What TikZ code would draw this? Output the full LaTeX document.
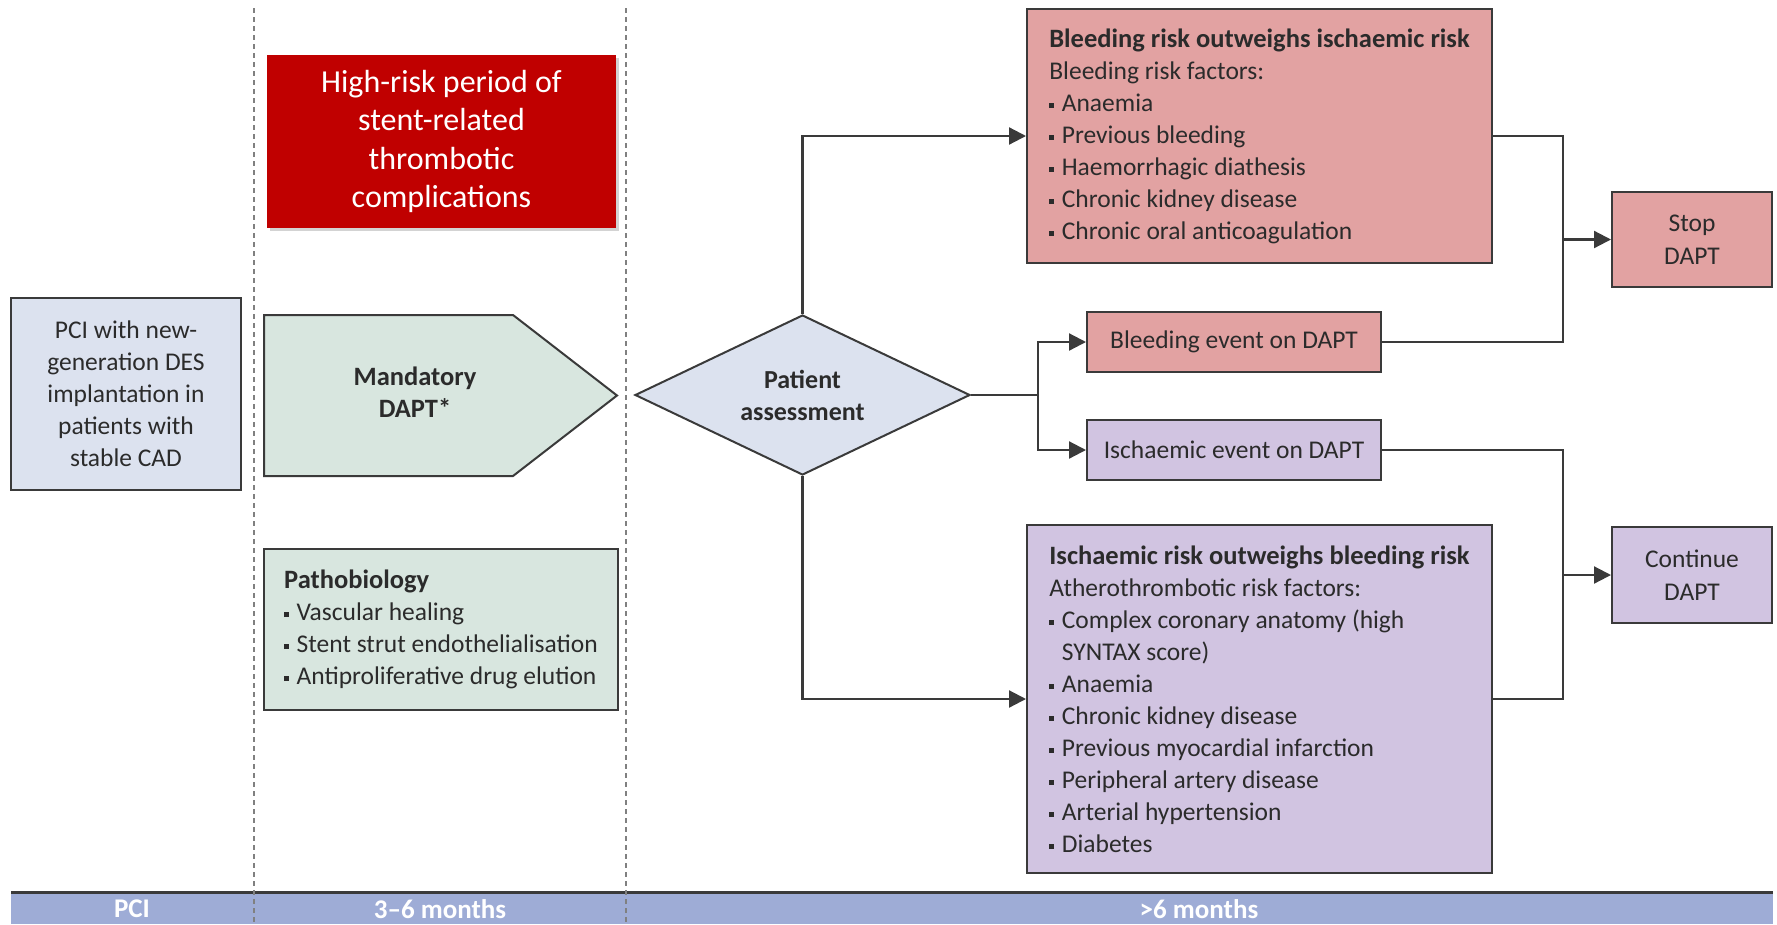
\documentclass[tikz,border=0pt]{standalone}
\usepackage{fontspec}
\setmainfont{Carlito}
\usetikzlibrary{arrows.meta,shapes.geometric,shadows}
\definecolor{pcifill}{HTML}{DCE2EF}
\definecolor{greenfill}{HTML}{D8E6DF}
\definecolor{riskred}{HTML}{C00000}
\definecolor{bleedfill}{HTML}{E2A2A2}
\definecolor{ischfill}{HTML}{D1C4E1}
\definecolor{barfill}{HTML}{9EACD6}
\definecolor{boxline}{HTML}{3A3A3A}
\definecolor{textcol}{HTML}{2B2B2B}
\newcommand{\blt}{\rule[0.28ex]{0.19em}{0.19em}\hspace{0.3em}}
\newcommand{\hd}[1]{{\bfseries\fontsize{26.5}{32}\selectfont #1}}
\begin{document}
\begin{tikzpicture}[x=1pt, y=-1pt, line width=2.2pt, >={Triangle[length=17pt,width=17pt]},
	box/.style={draw=boxline, line width=2pt, inner sep=0pt, text=textcol, font=\fontsize{25.5}{32}\selectfont},
	link/.style={draw=boxline, line width=2.2pt},
	sepline/.style={draw=gray, line width=1.5pt, dash pattern=on 5pt off 4pt},
	barlabel/.style={text=white, font=\bfseries\fontsize{27}{30}\selectfont}]
	\useasboundingbox (0,0) rectangle (1777,924);
	
	% 1. 底部时间条
	\fill[barfill] (11,892) rectangle (1773,924);
	\draw[boxline, line width=3pt] (11,892) -- (1773,892);
	\node[barlabel] (tpci) at (132,909) {PCI};
	\node[barlabel] (tmid) at (440,909) {3–6 months};
	\node[barlabel] (tlate) at (1199,909) {>6 months};
	
	% 2. 分隔虚线
	\draw[sepline] (254,8) -- (254,924);
	\draw[sepline] (626,8) -- (626,924);
	
	% 3. 左侧各框
	\node[box, fill=pcifill, minimum width=230, minimum height=192, align=center] (pci) at (126,394)
		{PCI with new-\\generation DES\\implantation in\\patients with\\stable CAD};
	\node[fill=riskred, minimum width=349, minimum height=173, inner sep=0pt, align=center, text=white,
		font=\fontsize{32}{38.5}\selectfont, drop shadow={opacity=0.35, shadow xshift=3pt, shadow yshift=-3pt}] (highrisk) at (441.5,141.5)
		{High-risk period of\\stent-related\\thrombotic\\complications};
	\draw[boxline, line width=2pt, fill=greenfill] (264,315) -- (513,315) -- (617,395.5) -- (513,476) -- (264,476) -- cycle;
	\node[text=textcol, align=center, font=\bfseries\fontsize{26.5}{32}\selectfont] (dapt) at (415,392) {Mandatory\\DAPT*};
	\node[box, fill=greenfill, minimum width=354, minimum height=161, align=left] (patho) at (441,629.5)
		{\hd{Pathobiology}\\\blt Vascular healing\\\blt Stent strut endothelialisation\\\blt Antiproliferative drug elution};
	
	% 4. 决策菱形
	\node[box, diamond, fill=pcifill, minimum width=335, minimum height=160, aspect=2.1, align=center,
		font=\bfseries\fontsize{26}{32}\selectfont] (assess) at (802.5,395) {Patient\\assessment};
	
	% 5. 右侧各框
	\node[box, fill=bleedfill, minimum width=465, minimum height=254, align=left] (bleedrisk) at (1259.5,136)
		{\hd{Bleeding risk outweighs ischaemic risk}\\Bleeding risk factors:\\\blt Anaemia\\\blt Previous bleeding\\\blt Haemorrhagic diathesis\\\blt Chronic kidney disease\\\blt Chronic oral anticoagulation};
	\node[box, fill=bleedfill, minimum width=294, minimum height=60] (bleedevent) at (1234,342) {Bleeding event on DAPT};
	\node[box, fill=ischfill, minimum width=294, minimum height=60] (ischevent) at (1234,450) {Ischaemic event on DAPT};
	\node[box, fill=ischfill, minimum width=465, minimum height=348, align=left] (ischrisk) at (1259.5,699)
		{\hd{Ischaemic risk outweighs bleeding risk}\\Atherothrombotic risk factors:\\\blt Complex coronary anatomy (high\\\hphantom{\blt}SYNTAX score)\\\blt Anaemia\\\blt Chronic kidney disease\\\blt Previous myocardial infarction\\\blt Peripheral artery disease\\\blt Arterial hypertension\\\blt Diabetes};
	\node[box, fill=bleedfill, minimum width=160, minimum height=95, align=center, font=\fontsize{25.5}{33}\selectfont] (stop) at (1692,239.5) {Stop\\DAPT};
	\node[box, fill=ischfill, minimum width=160, minimum height=96, align=center, font=\fontsize{25.5}{33}\selectfont] (cont) at (1692,575) {Continue\\DAPT};
	
	% 6. 连线
	\coordinate (split) at (1038,395);
	\coordinate (stopjoin) at (1563,239.5);
	\coordinate (contjoin) at (1563,575);
	\draw[link, ->] (assess.north) |- (bleedrisk.west);
	\draw[link, ->] (assess.south) |- (ischrisk.west);
	\draw[link] (assess.east) -- (split);
	\draw[link, ->] (split) |- (bleedevent.west);
	\draw[link, ->] (split) |- (ischevent.west);
	\draw[link] (bleedrisk.east) -| (stopjoin);
	\draw[link] (bleedevent.east) -| (stopjoin);
	\draw[link, ->] (stopjoin) -- (stop.west);
	\draw[link] (ischevent.east) -| (contjoin);
	\draw[link] (ischrisk.east) -| (contjoin);
	\draw[link, ->] (contjoin) -- (cont.west);
\end{tikzpicture}
\end{document}
